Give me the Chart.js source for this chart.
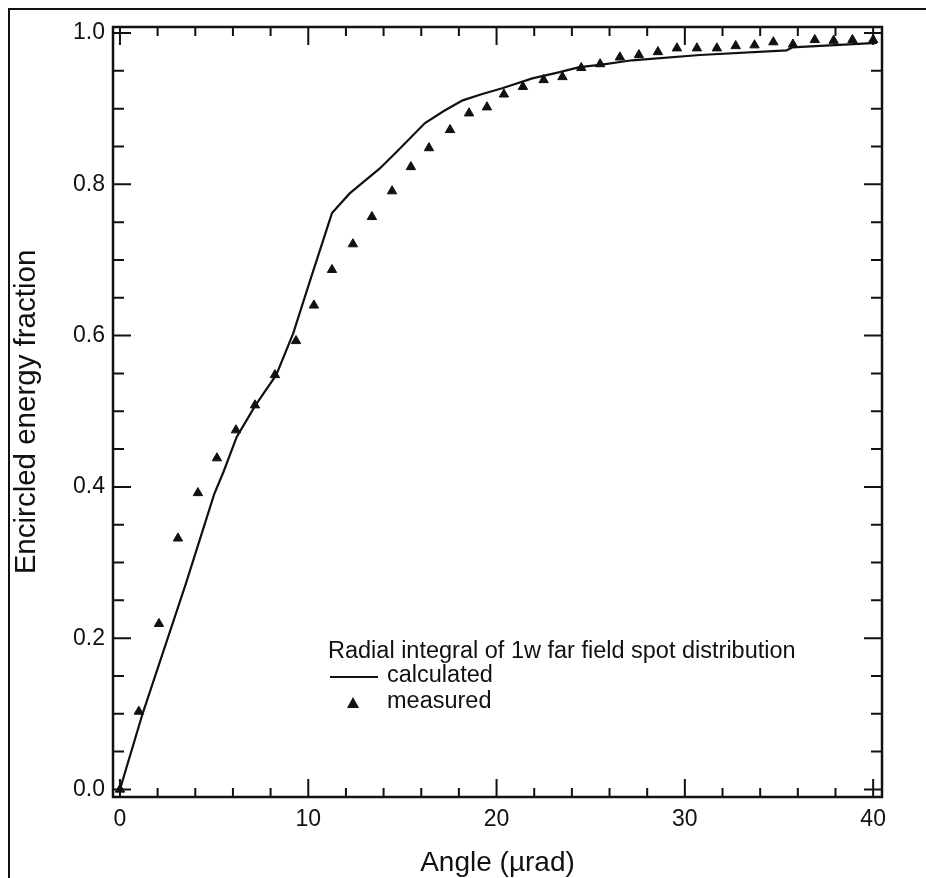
<!DOCTYPE html>
<html>
<head>
<meta charset="utf-8">
<script src="https://cdn.jsdelivr.net/npm/chart.js@4/dist/chart.umd.min.js"></script>
<style>
  html, body { margin: 0; padding: 0; background: #fff; }
  #wrap { width: 926px; height: 878px; }
</style>
</head>
<body>
<div id="wrap"><canvas id="myChart" width="926" height="878"></canvas></div>
<script>
// calculated curve (angle in µrad, encircled energy fraction)
const calcAngle = [0, 1.2, 3.5, 5.0, 5.5, 6.2, 7.2, 8.3, 9.2, 10.1, 11.26, 12.2, 13.8, 14.7, 16.2, 17.2, 18.2, 19.2, 20.3, 21.9, 23.3, 24.4, 25.5, 27.2, 30.8, 35.4, 35.7, 40.2];
const calcValue = [0, 0.10, 0.272, 0.39, 0.42, 0.466, 0.508, 0.548, 0.603, 0.673, 0.762, 0.788, 0.821, 0.843, 0.881, 0.897, 0.911, 0.919, 0.927, 0.940, 0.948, 0.955, 0.958, 0.964, 0.971, 0.977, 0.981, 0.987];

// measured points
const measAngle = [0, 1.0, 2.07, 3.08, 4.14, 5.15, 6.16, 7.17, 8.23, 9.35, 10.3, 11.26, 12.37, 13.38, 14.45, 15.45, 16.41, 17.53, 18.54, 19.49, 20.39, 21.4, 22.5, 23.5, 24.5, 25.5, 26.55, 27.56, 28.57, 29.58, 30.64, 31.7, 32.7, 33.7, 34.7, 35.74, 36.9, 37.9, 38.9, 40.0];
const measValue = [0.0, 0.103, 0.219, 0.332, 0.392, 0.438, 0.475, 0.508, 0.548, 0.593, 0.640, 0.687, 0.721, 0.757, 0.791, 0.823, 0.848, 0.872, 0.894, 0.902, 0.919, 0.929, 0.938, 0.942, 0.954, 0.959, 0.968, 0.971, 0.975, 0.980, 0.980, 0.980, 0.983, 0.984, 0.988, 0.985, 0.991, 0.990, 0.991, 0.991];

// tick labels
const xTicks = [0, 10, 20, 30, 40];
const yTicks = [0.0, 0.2, 0.4, 0.6, 0.8, 1.0];
const xMinorStep = 2;
const yMinorStep = 0.05;

const FONT = "'Liberation Sans', Arial, Helvetica, sans-serif";
const INK = '#111';

function toPoints(xs, ys) {
    return xs.map((v, i) => ({ x: v, y: ys[i] }));
}

// box round the plot with inward ticks on all four sides, plus the page frame
const frameTicks = {
    id: 'frameTicks',
    afterDraw(chart) {
        const { ctx, chartArea: a, scales } = chart;
        const x = scales.x, y = scales.y;
        ctx.save();
        ctx.strokeStyle = INK;
        ctx.lineWidth = 2.5;
        ctx.strokeRect(a.left, a.top, a.right - a.left, a.bottom - a.top);

        ctx.lineWidth = 2;
        ctx.beginPath();
        for (let v = 0; v <= 40 + 1e-9; v += xMinorStep) {
            const px = x.getPixelForValue(v);
            const len = xTicks.includes(v) ? 18 : 9;
            ctx.moveTo(px, a.bottom); ctx.lineTo(px, a.bottom - len);
            ctx.moveTo(px, a.top); ctx.lineTo(px, a.top + len);
        }
        for (let i = 0; i <= 20; i++) {
            const v = i * yMinorStep;
            const py = y.getPixelForValue(v);
            const len = (i % 4 === 0) ? 18 : 11;
            ctx.moveTo(a.left, py); ctx.lineTo(a.left + len, py);
            ctx.moveTo(a.right, py); ctx.lineTo(a.right - len, py);
        }
        ctx.stroke();

        // outer frame of the figure (left and top edges)
        ctx.beginPath();
        ctx.moveTo(9, 878); ctx.lineTo(9, 9); ctx.lineTo(926, 9);
        ctx.stroke();
        ctx.restore();
    }
};

// legend written inside the plot
const insetLegend = {
    id: 'insetLegend',
    afterDraw(chart) {
        const ctx = chart.ctx;
        ctx.save();
        ctx.fillStyle = INK;
        ctx.strokeStyle = INK;
        ctx.font = '23.5px ' + FONT;
        ctx.textBaseline = 'middle';
        ctx.textAlign = 'left';
        ctx.fillText('Radial integral of 1w far field spot distribution', 328, 652);
        ctx.fillText('calculated', 387, 676);
        ctx.fillText('measured', 387, 702);
        ctx.lineWidth = 2;
        ctx.beginPath();
        ctx.moveTo(330, 677); ctx.lineTo(378, 677);
        ctx.stroke();
        ctx.beginPath();
        ctx.moveTo(353, 697); ctx.lineTo(359, 708); ctx.lineTo(347, 708);
        ctx.closePath();
        ctx.fill();
        ctx.restore();
    }
};

const data = {
    datasets: [
        {
            label: 'calculated',
            type: 'line',
            data: toPoints(calcAngle, calcValue),
            borderColor: INK,
            borderWidth: 2.2,
            pointRadius: 0,
            tension: 0,
            fill: false,
            clip: false
        },
        {
            label: 'measured',
            type: 'scatter',
            data: toPoints(measAngle, measValue),
            pointStyle: 'triangle',
            pointRadius: 5.4,
            backgroundColor: INK,
            borderColor: INK,
            borderWidth: 1,
            clip: false
        }
    ]
};

const config = {
    type: 'scatter',
    data: data,
    options: {
        responsive: false,
        animation: false,
        layout: { padding: { left: 0, top: 27, right: 44, bottom: 0 } },
        plugins: { legend: { display: false }, tooltip: { enabled: false } },
        scales: {
            x: {
                type: 'linear',
                min: -0.37,
                max: 40.47,
                afterFit(scale) { scale.height = 81; },
                afterBuildTicks(scale) { scale.ticks = xTicks.map(v => ({ value: v })); },
                grid: { display: false, drawTicks: false },
                border: { display: false },
                ticks: {
                    padding: 9,
                    color: INK,
                    font: { family: FONT, size: 23 },
                    callback: v => String(v)
                },
                title: {
                    display: true,
                    text: 'Angle (µrad)',
                    color: INK,
                    font: { family: FONT, size: 28 },
                    padding: { top: 0, bottom: -2 }
                }
            },
            y: {
                type: 'linear',
                min: -0.01,
                max: 1.008,
                afterFit(scale) { scale.width = 113; },
                afterBuildTicks(scale) { scale.ticks = yTicks.map(v => ({ value: v })); },
                grid: { display: false, drawTicks: false },
                border: { display: false },
                ticks: {
                    padding: 8,
                    color: INK,
                    font: { family: FONT, size: 23 },
                    callback: v => Number(v).toFixed(1)
                },
                title: {
                    display: true,
                    text: 'Encircled energy fraction',
                    color: INK,
                    font: { family: FONT, size: 29.5 },
                    padding: { top: 9, bottom: 0 }
                }
            }
        }
    },
    plugins: [frameTicks, insetLegend]
};

let myChart = new Chart(document.getElementById('myChart'), config);
</script>
</body>
</html>
